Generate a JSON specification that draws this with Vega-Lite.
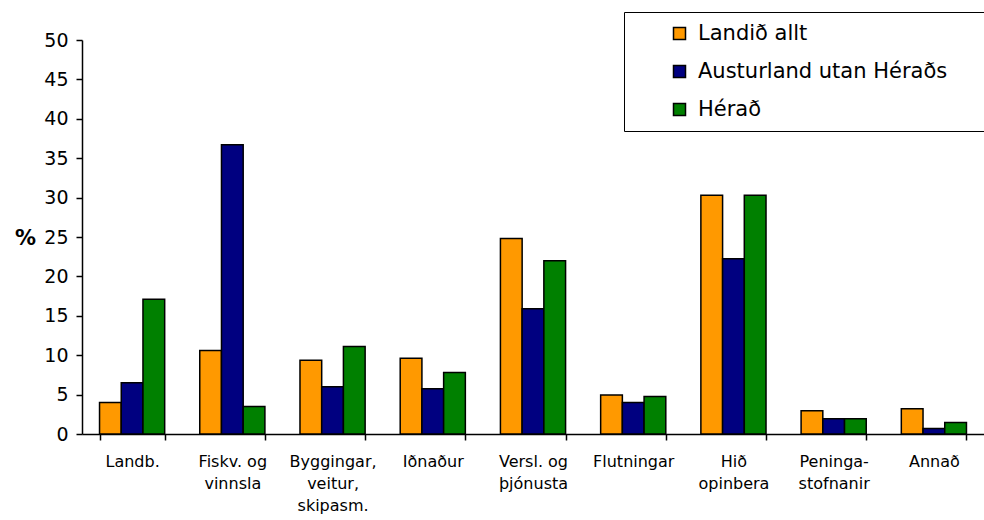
{
  "$schema": "https://vega.github.io/schema/vega-lite/v6.json",
  "width": 902,
  "height": 394,
  "autosize": {"type": "none"},
  "padding": {"left": 82, "top": 40, "right": 0, "bottom": 86},
  "background": "white",
  "config": {"font": "DejaVu Sans", "view": {"stroke": null}},
  "data": {"values": [
    {"grein": "Landb.", "hopur": "Landið allt", "v": 4.0},
    {"grein": "Landb.", "hopur": "Austurland utan Héraðs", "v": 6.5},
    {"grein": "Landb.", "hopur": "Hérað", "v": 17.1},
    {"grein": "Fiskv. og|vinnsla", "hopur": "Landið allt", "v": 10.6},
    {"grein": "Fiskv. og|vinnsla", "hopur": "Austurland utan Héraðs", "v": 36.7},
    {"grein": "Fiskv. og|vinnsla", "hopur": "Hérað", "v": 3.5},
    {"grein": "Byggingar,|veitur,|skipasm.", "hopur": "Landið allt", "v": 9.35},
    {"grein": "Byggingar,|veitur,|skipasm.", "hopur": "Austurland utan Héraðs", "v": 6.0},
    {"grein": "Byggingar,|veitur,|skipasm.", "hopur": "Hérað", "v": 11.1},
    {"grein": "Iðnaður", "hopur": "Landið allt", "v": 9.6},
    {"grein": "Iðnaður", "hopur": "Austurland utan Héraðs", "v": 5.75},
    {"grein": "Iðnaður", "hopur": "Hérað", "v": 7.8},
    {"grein": "Versl. og|þjónusta", "hopur": "Landið allt", "v": 24.8},
    {"grein": "Versl. og|þjónusta", "hopur": "Austurland utan Héraðs", "v": 15.9},
    {"grein": "Versl. og|þjónusta", "hopur": "Hérað", "v": 22.0},
    {"grein": "Flutningar", "hopur": "Landið allt", "v": 4.95},
    {"grein": "Flutningar", "hopur": "Austurland utan Héraðs", "v": 4.0},
    {"grein": "Flutningar", "hopur": "Hérað", "v": 4.75},
    {"grein": "Hið|opinbera", "hopur": "Landið allt", "v": 30.3},
    {"grein": "Hið|opinbera", "hopur": "Austurland utan Héraðs", "v": 22.25},
    {"grein": "Hið|opinbera", "hopur": "Hérað", "v": 30.3},
    {"grein": "Peninga-|stofnanir", "hopur": "Landið allt", "v": 2.95},
    {"grein": "Peninga-|stofnanir", "hopur": "Austurland utan Héraðs", "v": 1.95},
    {"grein": "Peninga-|stofnanir", "hopur": "Hérað", "v": 1.95},
    {"grein": "Annað", "hopur": "Landið allt", "v": 3.2},
    {"grein": "Annað", "hopur": "Austurland utan Héraðs", "v": 0.7},
    {"grein": "Annað", "hopur": "Hérað", "v": 1.45}
  ]},
  "mark": {"type": "bar", "stroke": "black", "strokeWidth": 1.5},
  "encoding": {
    "x": {
      "field": "grein", "type": "nominal", "sort": null,
      "scale": {"paddingInner": 0.35, "paddingOuter": 0.175},
      "axis": {
        "title": null, "labelAngle": 0,
        "labelExpr": "isValid(datum.value) ? split(datum.value, '|') : ''",
        "labelFontSize": 16, "labelColor": "black", "labelPadding": 13,
        "labelLineHeight": 22, "labelBaseline": "top",
        "tickBand": "extent", "tickColor": "black", "tickSize": 6, "tickWidth": 1.5,
        "domainColor": "black", "domainWidth": 1.5, "grid": false
      }
    },
    "xOffset": {"field": "hopur", "type": "nominal", "sort": ["Landið allt", "Austurland utan Héraðs", "Hérað"], "scale": {"paddingInner": 0, "paddingOuter": 0}},
    "y": {
      "field": "v", "type": "quantitative",
      "scale": {"domain": [0, 50], "nice": false},
      "axis": {
        "title": "%", "titleAngle": 0, "titleFontSize": 21, "titleFontWeight": "bold",
        "titleX": -57, "titleY": 198, "titleAlign": "center", "titleBaseline": "middle",
        "titleColor": "black",
        "values": [0, 5, 10, 15, 20, 25, 30, 35, 40, 45, 50],
        "labelFontSize": 19, "labelColor": "black", "labelPadding": 8,
        "tickColor": "black", "tickSize": 6, "tickWidth": 1.5,
        "domainColor": "black", "domainWidth": 1.5, "grid": false
      }
    },
    "color": {
      "field": "hopur", "type": "nominal",
      "sort": ["Landið allt", "Austurland utan Héraðs", "Hérað"],
      "scale": {"domain": ["Landið allt", "Austurland utan Héraðs", "Hérað"], "range": ["#FF9900", "#000080", "#008000"]},
      "legend": {
        "title": ".", "titleOrient": "right", "titleColor": "white", "titleFontSize": 8, "titlePadding": 60,
        "orient": "none", "legendX": 542, "legendY": -28,
        "fillColor": "white", "strokeColor": "black",
        "padding": 11, "symbolOffset": 34, "symbolType": "square", "symbolSize": 144,
        "symbolStrokeColor": "black", "symbolStrokeWidth": 1.5, "symbolOpacity": 1,
        "labelFontSize": 21, "labelColor": "black", "labelLimit": 600, "labelOffset": 8,
        "rowPadding": 16
      }
    }
  }
}
